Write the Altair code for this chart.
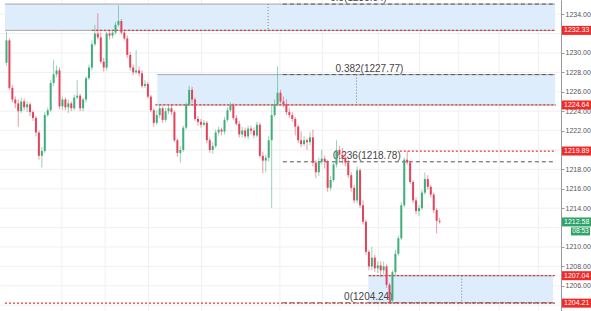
import altair as alt
import pandas as pd

# ---------------- data ----------------
opens = [1229.0, 1231.3, 1226.4, 1225.2, 1224.8, 1224.0, 1225.0, 1224.4, 1224.7, 1223.9,
         1223.3, 1221.8, 1219.4, 1219.9, 1223.6, 1224.1, 1226.9, 1227.8, 1228.2, 1224.5,
         1225.2, 1224.4, 1224.8, 1224.3, 1225.4, 1225.6, 1224.3, 1225.2, 1227.4, 1228.5,
         1230.9, 1232.0, 1231.6, 1229.1, 1228.5, 1232.0, 1231.8, 1232.1, 1232.9, 1233.3,
         1232.1, 1231.5, 1229.8, 1228.5, 1228.0, 1228.2, 1227.9, 1226.6, 1226.8, 1225.5,
         1224.1, 1222.8, 1223.6, 1224.3, 1223.1, 1224.0, 1224.3, 1223.9, 1221.0, 1219.7,
         1220.0, 1222.3, 1224.7, 1226.2, 1225.2, 1223.2, 1222.9, 1222.6, 1222.8, 1221.0,
         1220.0, 1220.4, 1221.8, 1222.1, 1221.9, 1223.1, 1224.1, 1224.6, 1223.3, 1222.7,
         1221.6, 1222.0, 1221.4, 1222.2, 1222.0, 1221.5, 1222.6, 1219.4, 1218.9, 1219.2,
         1221.0, 1223.6, 1224.7, 1225.9, 1225.0, 1224.7, 1223.9, 1223.6, 1223.2, 1222.4,
         1221.0, 1220.6, 1221.0, 1220.8, 1221.3, 1218.7, 1217.7, 1218.8, 1219.1, 1218.8,
         1216.1, 1216.9, 1218.5, 1220.0, 1219.5, 1219.2, 1218.7, 1217.4, 1216.1, 1214.8,
         1217.9, 1214.3, 1212.6, 1209.5, 1208.0, 1208.9, 1207.8, 1208.1, 1207.6, 1208.0,
         1206.1, 1204.5, 1207.4, 1209.3, 1210.9, 1214.3, 1219.0, 1218.7, 1216.7, 1214.8,
         1213.7, 1214.0, 1215.6, 1217.0, 1216.2, 1215.4, 1213.8, 1212.7]
closes = [1231.3, 1226.4, 1225.2, 1224.8, 1224.0, 1225.0, 1224.4, 1224.7, 1223.9, 1223.3,
          1221.8, 1219.4, 1219.9, 1223.6, 1224.1, 1226.9, 1227.8, 1228.2, 1224.5, 1225.2,
          1224.4, 1224.8, 1224.3, 1225.4, 1225.6, 1224.3, 1225.2, 1227.4, 1228.5, 1230.9,
          1232.0, 1231.6, 1229.1, 1228.5, 1232.0, 1231.8, 1232.1, 1232.9, 1233.3, 1232.1,
          1231.5, 1229.8, 1228.5, 1228.0, 1228.2, 1227.9, 1226.6, 1226.8, 1225.5, 1224.1,
          1222.8, 1223.6, 1224.3, 1223.1, 1224.0, 1224.3, 1223.9, 1221.0, 1219.7, 1220.0,
          1222.3, 1224.7, 1226.2, 1225.2, 1223.2, 1222.9, 1222.6, 1222.8, 1221.0, 1220.0,
          1220.4, 1221.8, 1222.1, 1221.9, 1223.1, 1224.1, 1224.6, 1223.3, 1222.7, 1221.6,
          1222.0, 1221.4, 1222.2, 1222.0, 1221.5, 1222.6, 1219.4, 1218.9, 1219.2, 1221.0,
          1223.6, 1224.7, 1225.9, 1225.0, 1224.7, 1223.9, 1223.6, 1223.2, 1222.4, 1221.0,
          1220.6, 1221.0, 1220.8, 1221.3, 1218.7, 1217.7, 1218.8, 1219.1, 1218.8, 1216.1,
          1216.9, 1218.5, 1220.0, 1219.5, 1219.2, 1218.7, 1217.4, 1216.1, 1214.8, 1217.9,
          1214.3, 1212.6, 1209.5, 1208.0, 1208.9, 1207.8, 1208.1, 1207.6, 1208.0, 1206.1,
          1204.5, 1207.4, 1209.3, 1210.9, 1214.3, 1219.0, 1218.7, 1216.7, 1214.8, 1213.7,
          1214.0, 1215.6, 1217.0, 1216.2, 1215.4, 1213.8, 1212.7, 1212.6]
highs = [1232.2, 1231.5, 1226.7, 1225.5, 1225.2, 1225.4, 1225.3, 1225.0, 1224.9, 1224.1,
         1223.5, 1222.0, 1220.3, 1223.9, 1224.4, 1227.2, 1229.3, 1228.7, 1228.5, 1225.5,
         1225.4, 1225.2, 1225.0, 1225.7, 1227.2, 1225.8, 1225.4, 1227.6, 1228.8, 1231.3,
         1232.9, 1234.1, 1232.1, 1229.5, 1232.2, 1232.4, 1232.4, 1233.2, 1234.9, 1233.5,
         1232.4, 1231.8, 1230.1, 1228.8, 1230.3, 1228.6, 1228.2, 1227.2, 1227.0, 1225.7,
         1224.3, 1224.1, 1224.7, 1224.5, 1224.3, 1224.6, 1224.7, 1224.1, 1221.2, 1220.4,
         1222.5, 1224.9, 1226.6, 1226.5, 1225.4, 1223.5, 1223.2, 1223.1, 1223.0, 1221.3,
         1220.8, 1222.1, 1222.4, 1222.3, 1223.4, 1224.4, 1224.9, 1224.8, 1223.6, 1223.0,
         1222.4, 1222.3, 1222.5, 1222.5, 1222.3, 1222.9, 1222.8, 1219.8, 1219.5, 1221.4,
         1224.7, 1225.2, 1228.6, 1226.2, 1225.5, 1225.2, 1224.3, 1223.9, 1223.4, 1222.6,
         1221.9, 1221.4, 1221.2, 1221.8, 1222.1, 1219.0, 1219.2, 1220.0, 1219.4, 1219.0,
         1217.3, 1218.7, 1221.0, 1220.4, 1220.2, 1219.8, 1219.0, 1217.7, 1216.4, 1218.3,
         1218.1, 1214.8, 1212.8, 1209.7, 1210.0, 1209.2, 1208.5, 1208.5, 1208.5, 1208.2,
         1206.3, 1207.6, 1209.7, 1211.2, 1214.6, 1219.2, 1219.9, 1218.9, 1216.9, 1215.1,
         1214.3, 1215.9, 1217.7, 1217.4, 1216.4, 1215.6, 1214.0, 1213.0]
lows = [1228.7, 1226.2, 1224.9, 1224.3, 1222.4, 1223.8, 1224.1, 1223.9, 1223.5, 1223.0,
        1221.4, 1219.0, 1218.2, 1219.7, 1223.4, 1223.9, 1226.6, 1227.5, 1224.2, 1224.1,
        1224.1, 1223.8, 1224.0, 1224.1, 1225.2, 1224.0, 1224.0, 1224.9, 1227.2, 1228.2,
        1230.7, 1231.4, 1228.9, 1228.1, 1228.2, 1231.4, 1231.5, 1231.9, 1232.7, 1231.9,
        1231.3, 1229.5, 1228.2, 1227.7, 1227.8, 1227.6, 1226.4, 1226.4, 1225.3, 1223.9,
        1222.4, 1222.6, 1223.3, 1222.8, 1222.9, 1223.7, 1223.6, 1220.8, 1219.3, 1218.7,
        1219.8, 1222.1, 1224.5, 1224.8, 1223.0, 1222.5, 1222.3, 1222.4, 1220.7, 1219.7,
        1219.6, 1220.2, 1221.5, 1221.5, 1221.6, 1222.9, 1223.9, 1223.1, 1222.5, 1221.3,
        1221.3, 1221.2, 1221.1, 1221.6, 1221.2, 1221.3, 1219.2, 1217.6, 1217.7, 1218.8,
        1214.0, 1223.4, 1224.5, 1224.8, 1224.4, 1223.6, 1223.3, 1222.9, 1221.5, 1220.7,
        1220.3, 1220.4, 1220.0, 1220.5, 1218.3, 1217.1, 1217.3, 1218.5, 1218.1, 1215.7,
        1215.8, 1216.7, 1218.2, 1218.8, 1218.6, 1218.3, 1217.1, 1215.7, 1214.5, 1214.5,
        1214.0, 1212.3, 1209.2, 1207.6, 1207.6, 1207.4, 1207.3, 1206.9, 1207.2, 1205.8,
        1204.2, 1204.2, 1207.1, 1209.1, 1210.7, 1214.1, 1218.5, 1216.5, 1214.5, 1213.4,
        1213.2, 1213.8, 1215.4, 1215.9, 1215.1, 1213.5, 1211.4, 1212.4]

# horizontal grid at every 2 points; labels only where the reference shows them
grid_values = [1204, 1206, 1208, 1210, 1212, 1214, 1216, 1218, 1220, 1222,
               1224, 1226, 1228, 1230, 1232, 1234]
tick_labels = [1206, 1208, 1210, 1214, 1216, 1218, 1222, 1224, 1226, 1228, 1230, 1234]
time_grid = [18.8, 33.5, 48.2, 66.2, 92.8, 107.2, 126.2, 140.2, 153.5, 167.2, 180.5]

red_levels = [1232.33, 1224.64, 1219.89, 1207.04, 1204.21]
red_starts = [29.0, 50.5, 133.5, 123.0, -0.5]

fib_ratios = ["0.5", "0.382", "0.236", "0"]
fib_values = [1235.04, 1227.77, 1218.78, 1204.24]
fib_label_pos = [119.5, 123.2, 122.3, 122.8]
fib_line_start = 93.8

zone_tops = [1235.04, 1227.77, 1207.04]
zone_bottoms = [1232.33, 1224.64, 1204.24]
zone_starts = [-0.5, 51.2, 122.8]
zone_ends = [186.2, 186.2, 185.5]
zone_marks = [88.8, 118.8, 154.5]

current_price = 1212.58
countdown = "08:53"

X_DOMAIN = [-0.5, 186.5]
Y_DOMAIN = [1203.4, 1235.46]

UP = "#3fae7a"
DOWN = "#e2445c"
RED = "#e53935"

# ---------------- frames ----------------
candles = pd.DataFrame({"i": list(range(len(closes))), "open": opens, "high": highs,
                        "low": lows, "close": closes})
candles["dir"] = ["up" if c >= o else "down" for o, c in zip(opens, closes)]

xs = alt.Scale(domain=X_DOMAIN, nice=False, zero=False)
ys = alt.Scale(domain=Y_DOMAIN, nice=False, zero=False)
color_scale = alt.Scale(domain=["up", "down"], range=[UP, DOWN])

yaxis = alt.Axis(orient="right", values=tick_labels, format=".2f", title=None,
                 labelFontSize=7, labelFont="Liberation Sans", labelColor="#555555",
                 tickSize=3, tickColor="#9a9a9a", domainColor="#9a9a9a",
                 grid=False, labelPadding=1)


def X(f):
    return alt.X(f, type="quantitative", scale=xs, axis=None)


def Y(f):
    return alt.Y(f, type="quantitative", scale=ys, axis=yaxis)


vgrid = alt.Chart(pd.DataFrame({"t": time_grid})).mark_rule(
    color="#f0f0f0", strokeWidth=1).encode(x=X("t"))
hgrid = alt.Chart(pd.DataFrame({"g": grid_values})).mark_rule(
    color="#f0f0f0", strokeWidth=1).encode(y=Y("g"))

zones_df = pd.DataFrame({"top": zone_tops, "bottom": zone_bottoms,
                         "x0": zone_starts, "x1": zone_ends, "xm": zone_marks})
zones = alt.Chart(zones_df).mark_rect(fill="#deedfc").encode(
    x=X("x0"), x2="x1", y=Y("top"), y2="bottom")

border_df = pd.DataFrame({"y": zone_tops + zone_bottoms,
                          "x0": zone_starts + zone_starts,
                          "x1": zone_ends + zone_ends})
borders = alt.Chart(border_df).mark_rule(color="#a6a6a6", strokeWidth=1).encode(
    x=X("x0"), x2="x1", y=Y("y"))

fib_df = pd.DataFrame({"y": fib_values, "x0": [fib_line_start] * len(fib_values),
                       "x1": [186.3] * len(fib_values), "xl": fib_label_pos,
                       "label": [f"{r}({v:.2f})" for r, v in zip(fib_ratios, fib_values)]})
fib_lines = alt.Chart(fib_df).mark_rule(color="#555555", strokeWidth=1,
                                        strokeDash=[4, 3]).encode(
    x=X("x0"), x2="x1", y=Y("y"))
fib_labels = alt.Chart(fib_df).mark_text(fontSize=10, font="Liberation Sans",
                                         color="#444444", baseline="bottom",
                                         align="center", dy=-1).encode(
    x=X("xl"), y=Y("y"), text="label")

marks = alt.Chart(zones_df).mark_rule(color="#808080", strokeWidth=1,
                                      strokeDash=[1, 2]).encode(
    x=X("xm"), y=Y("top"), y2="bottom")

red_df = pd.DataFrame({"y": red_levels, "x0": red_starts,
                       "x1": [X_DOMAIN[1]] * len(red_levels)})
red_lines = alt.Chart(red_df).mark_rule(color=RED, strokeWidth=1.2,
                                        strokeDash=[2, 2]).encode(
    x=X("x0"), x2="x1", y=Y("y"))

wicks = alt.Chart(candles).mark_rule(strokeWidth=1, opacity=0.55).encode(
    x=X("i"), y=Y("low"), y2="high",
    color=alt.Color("dir:N", scale=color_scale, legend=None))
bodies = alt.Chart(candles).mark_bar(size=2).encode(
    x=X("i"), y=Y("open"), y2="close",
    color=alt.Color("dir:N", scale=color_scale, legend=None))

box_df = pd.DataFrame({"y": red_levels, "label": [f"{v:.2f}" for v in red_levels]})
red_boxes = alt.Chart(box_df).mark_rule(color="#ee2a2a", strokeWidth=9).encode(
    x=alt.value(562), x2=alt.value(591), y=Y("y"))
red_texts = alt.Chart(box_df).mark_text(color="white", fontSize=7, font="Liberation Sans",
                                        align="left", baseline="middle").encode(
    x=alt.value(564), y=Y("y"), text="label")

cur_df = pd.DataFrame({"y": [current_price], "label": [f"{current_price:.2f}"],
                       "cd": [countdown]})
cur_box = alt.Chart(cur_df).mark_rule(color="#2fa46a", strokeWidth=9).encode(
    x=alt.value(562), x2=alt.value(591), y=Y("y"))
cur_text = alt.Chart(cur_df).mark_text(color="white", fontSize=7, font="Liberation Sans",
                                       align="left", baseline="middle").encode(
    x=alt.value(564), y=Y("y"), text="label")
cd_box = alt.Chart(cur_df).mark_rule(color="#2fa46a", strokeWidth=8, yOffset=9.5).encode(
    x=alt.value(571), x2=alt.value(590), y=Y("y"))
cd_text = alt.Chart(cur_df).mark_text(color="white", fontSize=6.5, font="Liberation Sans",
                                      align="center", baseline="middle", yOffset=9.5).encode(
    x=alt.value(580.5), y=Y("y"), text="cd")

chart = alt.layer(
    vgrid, hgrid, zones, borders, fib_lines, red_lines, marks, fib_labels,
    wicks, bodies, red_boxes, red_texts, cur_box, cur_text, cd_box, cd_text
).properties(
    width=561, height=311,
    autosize=alt.AutoSizeParams(type="none"),
    padding={"left": 0, "top": 0, "right": 30, "bottom": 0},
    background="white",
).configure_view(strokeWidth=0)

chart.save("out.html", embed_options={"renderer": "svg", "actions": False})
